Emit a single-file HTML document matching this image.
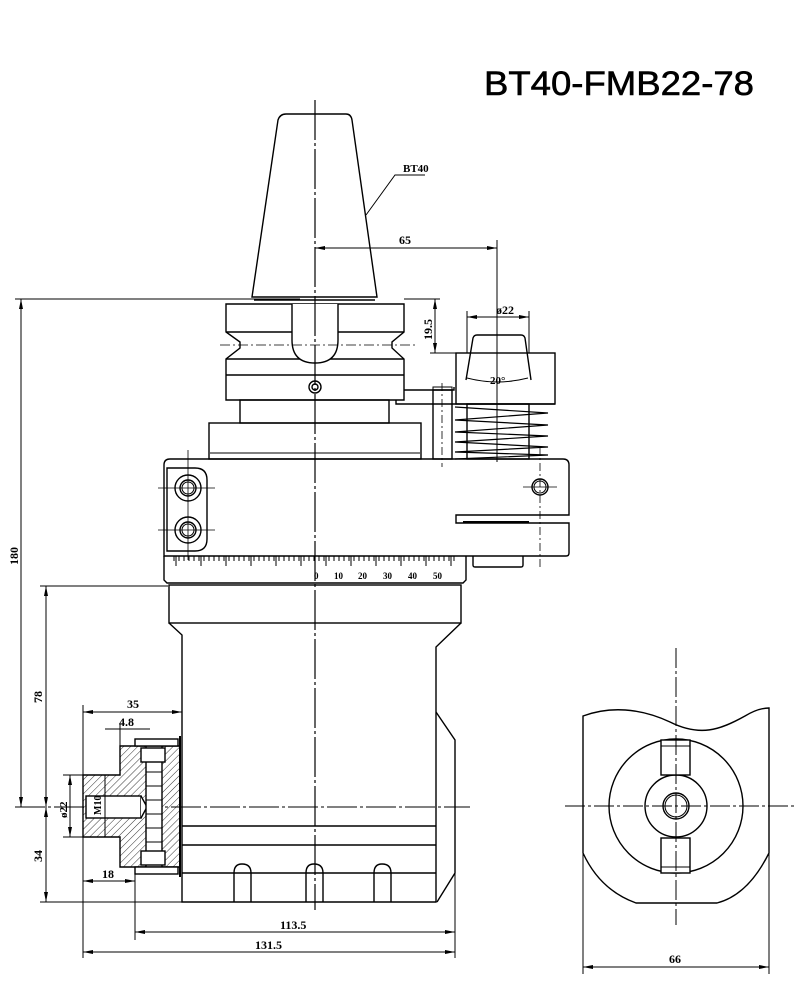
<!DOCTYPE html>
<html><head><meta charset="utf-8"><style>
html,body{margin:0;padding:0;background:#fff;width:800px;height:1000px;overflow:hidden}
svg{display:block}
text{font-family:"Liberation Sans Narrow","Liberation Serif",serif;font-weight:bold;fill:#000}
</style></head><body>
<svg width="800" height="1000" viewBox="0 0 800 1000" xmlns="http://www.w3.org/2000/svg">
<defs>
<pattern id="h" width="5" height="5" patternUnits="userSpaceOnUse" patternTransform="rotate(45)"><line x1="0" y1="0" x2="0" y2="5" stroke="#000" stroke-width="0.8"/></pattern>
<marker id="a" viewBox="0 0 10 6" refX="10" refY="3" markerWidth="10" markerHeight="6" orient="auto-start-reverse" markerUnits="userSpaceOnUse"><path d="M0,1 L10,3 L0,5 z" fill="#000"/></marker>
</defs>
<g fill="none" stroke="#000" stroke-width="1.4">
<!-- title -->
<text x="484" y="95" font-size="34" textLength="270" lengthAdjust="spacingAndGlyphs" stroke="#000" stroke-width="0.6" style="font-family:'Liberation Sans';font-weight:normal">BT40-FMB22-78</text>

<!-- taper -->
<path d="M252,297 L278,120 Q280,114 286,114 L346,114 Q351,114 352,120 L377,297 Z"/>
<line x1="254" y1="300" x2="375" y2="300"/>
<polyline points="366,215 395,175 425,175" stroke-width="1"/>
<text x="403" y="172" font-size="11" stroke="none">BT40</text>
<line x1="315" y1="248" x2="497" y2="248" stroke-width="1" marker-start="url(#a)" marker-end="url(#a)"/>
<text x="399" y="244" font-size="12" stroke="none">65</text>
<line x1="497" y1="240" x2="497" y2="462" stroke-width="1"/>

<!-- flange -->
<path d="M226,304 H404 V332 L392,342 V348 L404,359 V400 H226 V359 L240,348 V342 L226,332 Z"/>
<line x1="226" y1="375" x2="404" y2="375"/>
<line x1="226" y1="332" x2="404" y2="332"/>
<line x1="226" y1="359" x2="404" y2="359"/>
<path d="M292,304 V340 Q292,363 315,363 Q338,363 338,340 V304" fill="#fff"/>
<line x1="220" y1="345" x2="415" y2="345" stroke-width="0.8" stroke-dasharray="10,3,2,3"/>
<circle cx="315" cy="387" r="6"/><circle cx="315" cy="387" r="3"/>
<rect x="240" y="400" width="149" height="23"/>
<rect x="209" y="423" width="212" height="36"/>
<line x1="210" y1="453" x2="420" y2="453" stroke-width="1"/>
<polyline points="404,390 454,390 454,387"/>
<polyline points="396,400 396,404 555,404"/>
<rect x="433" y="387" width="19" height="3" stroke-width="1"/>
<rect x="433" y="390" width="19" height="69"/>
<line x1="442" y1="383" x2="442" y2="467" stroke-width="0.8" stroke-dasharray="8,3,2,3"/>
<rect x="456" y="353" width="99" height="51"/>
<path d="M466,380 L473,338 Q474,335 477,335 L521,335 Q524,335 525,338 L531,380"/>
<path d="M467,378 Q497,386 528,378" stroke-width="1"/>
<text x="490" y="384" font-size="11" stroke="none" fill="#000">20°</text>
<line x1="404" y1="299" x2="440" y2="299" stroke-width="1"/>
<line x1="430" y1="353" x2="456" y2="353" stroke-width="1"/>
<line x1="435" y1="299" x2="435" y2="353" stroke-width="1" marker-start="url(#a)" marker-end="url(#a)"/>
<text transform="translate(432,340) rotate(-90)" font-size="12" stroke="none">19.5</text>
<line x1="467" y1="311" x2="467" y2="353" stroke-width="1"/>
<line x1="529" y1="311" x2="529" y2="353" stroke-width="1"/>
<line x1="467" y1="317" x2="529" y2="317" stroke-width="1" marker-start="url(#a)" marker-end="url(#a)"/>
<text x="496" y="314" font-size="12" stroke="none">ø22</text>
<rect x="467" y="404" width="62" height="55"/>
<path d="M455,407 L548,413 L455,420 L548,425 L455,432 L548,436 L455,442 L548,447 L455,452 L548,455 L455,459" stroke-width="1.2"/>
<line x1="540" y1="447" x2="540" y2="568" stroke-width="0.8" stroke-dasharray="8,3,2,3"/>

<!-- main body -->
<path d="M170,459 H563 Q569,459 569,465 V515 H456 V523 H569 V553 Q569,556 566,556 H164 V465 Q164,459 170,459 Z"/>
<line x1="463" y1="522" x2="529" y2="522" stroke-width="2"/>
<path d="M167,468 H195 Q207,468 207,480 V539 Q207,551 195,551 H167 Z"/>
<circle cx="188" cy="488" r="13"/><circle cx="188" cy="488" r="8"/><circle cx="188" cy="488" r="6" stroke-width="1"/>
<circle cx="188" cy="530" r="13"/><circle cx="188" cy="530" r="8"/><circle cx="188" cy="530" r="6" stroke-width="1"/>
<line x1="158" y1="488" x2="215" y2="488" stroke-width="0.8"/><line x1="188" y1="450" x2="188" y2="560" stroke-width="0.8"/>
<line x1="158" y1="530" x2="215" y2="530" stroke-width="0.8"/>
<circle cx="540" cy="487" r="8"/><circle cx="540" cy="487" r="6" stroke-width="1"/>
<line x1="523" y1="487" x2="557" y2="487" stroke-width="0.8"/>
<path d="M164,556 V580 L167,583 H463 L466,580 V556"/>
<path d="M174,556 V561 M179,556 V561 M184,556 V561 M189,556 V561 M194,556 V561 M199,556 V561 M204,556 V561 M209,556 V561 M214,556 V561 M219,556 V561 M224,556 V561 M229,556 V561 M234,556 V561 M239,556 V561 M244,556 V561 M249,556 V561 M254,556 V561 M259,556 V561 M264,556 V561 M269,556 V561 M274,556 V561 M279,556 V561 M284,556 V561 M289,556 V561 M294,556 V561 M299,556 V561 M304,556 V561 M309,556 V561 M314,556 V561 M319,556 V561 M324,556 V561 M329,556 V561 M334,556 V561 M339,556 V561 M344,556 V561 M349,556 V561 M354,556 V561 M359,556 V561 M364,556 V561 M369,556 V561 M374,556 V561 M379,556 V561 M384,556 V561 M389,556 V561 M394,556 V561 M399,556 V561 M404,556 V561 M409,556 V561 M414,556 V561 M419,556 V561 M424,556 V561 M429,556 V561 M434,556 V561 M439,556 V561 M444,556 V561 M449,556 V561 M454,556 V561" stroke-width="1"/>
<path d="M176,556 V566 M201,556 V566 M226,556 V566 M251,556 V566 M276,556 V566 M301,556 V566 M326,556 V566 M351,556 V566 M376,556 V566 M401,556 V566 M426,556 V566 M451,556 V566" stroke-width="1"/>
<g font-size="9" stroke="none"><text x="314" y="579">0</text><text x="334" y="579">10</text><text x="358" y="579">20</text><text x="383" y="579">30</text><text x="408" y="579">40</text><text x="433" y="579">50</text></g>
<path d="M473,556 V565 Q473,567 475,567 H521 Q523,567 523,565 V556"/>
<rect x="169" y="585" width="292" height="38"/>
<path d="M169,623 L182,635 V902 H436 V647 L461,623"/>
<line x1="182" y1="826" x2="436" y2="826"/>
<line x1="182" y1="845" x2="436" y2="845"/>
<line x1="182" y1="873" x2="436" y2="873"/>
<path d="M234,902 V873 Q234,864 242,864 Q251,864 251,873 V902"/>
<path d="M306,902 V873 Q306,864 314,864 Q323,864 323,873 V902"/>
<path d="M374,902 V873 Q374,864 382,864 Q391,864 391,873 V902"/>
<path d="M436,712 L455,740 V873 L437,902"/>
<line x1="315" y1="100" x2="315" y2="910" stroke-width="1.2" stroke-dasharray="40,3,3,3"/>
<line x1="15" y1="807" x2="470" y2="807" stroke-width="1" stroke-dasharray="30,3,3,3"/>

<!-- adapter -->
<path d="M120,746 H180 V867 H120 V837 H83 V775 H120 Z" fill="url(#h)"/>
<rect x="86" y="796" width="55" height="22" fill="#fff"/>
<path d="M141,796 L147,807 L141,818" fill="#fff"/>
<rect x="146" y="746" width="16" height="121" fill="#fff"/>
<path d="M146,758 H162 M146,772 H162 M146,786 H162 M146,800 H162 M146,814 H162 M146,828 H162 M146,842 H162 M146,855 H162" stroke-width="1"/>
<rect x="141" y="748" width="24" height="14" fill="#fff"/><rect x="141" y="851" width="24" height="14" fill="#fff"/>
<rect x="135" y="739" width="43" height="7" fill="#fff"/><rect x="135" y="867" width="43" height="7" fill="#fff"/>
<line x1="180" y1="736" x2="180" y2="877" stroke-width="2"/>
<line x1="105" y1="775" x2="105" y2="837" stroke-width="1"/>
<text transform="translate(101,815) rotate(-90)" font-size="10" stroke="none">M10</text>

<!-- left dims -->
<line x1="15" y1="299" x2="300" y2="299" stroke-width="1"/>
<line x1="21" y1="299" x2="21" y2="807" stroke-width="1" marker-start="url(#a)" marker-end="url(#a)"/>
<text transform="translate(18,565) rotate(-90)" font-size="12" stroke="none">180</text>
<line x1="40" y1="586" x2="168" y2="586" stroke-width="1"/>
<line x1="46" y1="586" x2="46" y2="807" stroke-width="1" marker-start="url(#a)" marker-end="url(#a)"/>
<text transform="translate(42,703) rotate(-90)" font-size="12" stroke="none">78</text>
<line x1="40" y1="902" x2="182" y2="902" stroke-width="1"/>
<line x1="46" y1="807" x2="46" y2="902" stroke-width="1" marker-start="url(#a)" marker-end="url(#a)"/>
<text transform="translate(42,862) rotate(-90)" font-size="12" stroke="none">34</text>
<line x1="63" y1="775" x2="120" y2="775" stroke-width="1"/><line x1="63" y1="837" x2="83" y2="837" stroke-width="1"/>
<line x1="70" y1="775" x2="70" y2="837" stroke-width="1" marker-start="url(#a)" marker-end="url(#a)"/>
<text transform="translate(67,818) rotate(-90)" font-size="11" stroke="none">ø22</text>
<line x1="83" y1="705" x2="83" y2="958" stroke-width="1"/>
<line x1="83" y1="712" x2="182" y2="712" stroke-width="1" marker-start="url(#a)" marker-end="url(#a)"/>
<text x="127" y="708" font-size="12" stroke="none">35</text>
<line x1="105" y1="729" x2="150" y2="729" stroke-width="1"/>
<line x1="120" y1="724" x2="120" y2="746" stroke-width="1"/>
<text x="119" y="726" font-size="12" stroke="none">4.8</text>
<line x1="83" y1="881" x2="135" y2="881" stroke-width="1" marker-start="url(#a)" marker-end="url(#a)"/>
<text x="102" y="878" font-size="12" stroke="none">18</text>
<line x1="135" y1="874" x2="135" y2="940" stroke-width="1"/>
<line x1="455" y1="873" x2="455" y2="958" stroke-width="1"/>
<line x1="135" y1="932" x2="455" y2="932" stroke-width="1" marker-start="url(#a)" marker-end="url(#a)"/>
<text x="280" y="929" font-size="12" stroke="none">113.5</text>
<line x1="83" y1="952" x2="455" y2="952" stroke-width="1" marker-start="url(#a)" marker-end="url(#a)"/>
<text x="255" y="949" font-size="12" stroke="none">131.5</text>

<!-- right view -->
<path d="M583,716 C610,706 640,708 670,722 C700,737 720,730 745,716 C755,710 762,708 769,708 V853 Q748,895 717,903 H636 Q600,890 583,853 Z"/>
<circle cx="676" cy="806" r="67"/>
<circle cx="676" cy="806" r="31" fill="#fff"/>
<circle cx="676" cy="806" r="13"/><circle cx="676" cy="806" r="11" stroke-width="1"/>
<rect x="661" y="740" width="29" height="35" fill="#fff"/><line x1="661" y1="746" x2="690" y2="746" stroke-width="1"/>
<rect x="661" y="838" width="29" height="35" fill="#fff"/><line x1="661" y1="867" x2="690" y2="867" stroke-width="1"/>
<line x1="676" y1="648" x2="676" y2="925" stroke-width="1" stroke-dasharray="20,3,3,3"/>
<line x1="565" y1="806" x2="795" y2="806" stroke-width="1" stroke-dasharray="20,3,3,3"/>
<line x1="583" y1="853" x2="583" y2="974" stroke-width="1"/>
<line x1="769" y1="853" x2="769" y2="974" stroke-width="1"/>
<line x1="583" y1="967" x2="769" y2="967" stroke-width="1" marker-start="url(#a)" marker-end="url(#a)"/>
<text x="669" y="963" font-size="12" stroke="none">66</text>
</g>
</svg>
</body></html>
